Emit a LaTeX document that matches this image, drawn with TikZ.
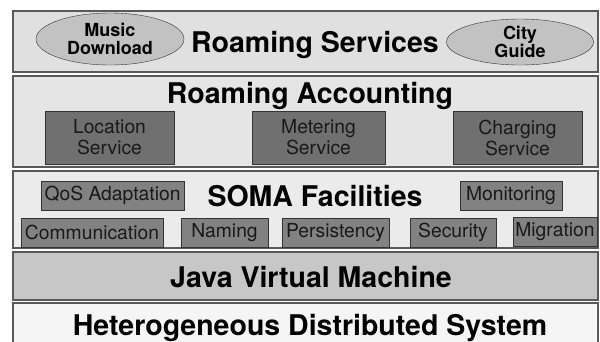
\documentclass[tikz,border=0pt]{standalone}
\usepackage{fontspec}
\setmainfont{TeX Gyre Heros}
\usepackage{tikz}
\usetikzlibrary{positioning}
\usetikzlibrary{shapes.geometric}
\colorlet{servicesc}{black!12}
\colorlet{accountc}{black!10}
\colorlet{facilc}{black!8}
\colorlet{jvmc}{black!22}
\colorlet{hdsc}{black!4}
\colorlet{ovalc}{black!24}
\colorlet{acctc}{black!56}
\colorlet{facc}{black!49}
\tikzset{
  layer/.style={draw=black!65, line width=1.2pt},
  title/.style={anchor=base, inner sep=0pt, font=\fontsize{28.5}{30}\selectfont\bfseries},
  appoval/.style={ellipse, draw=black!80, fill=ovalc, inner sep=0pt, align=center,
    font=\fontsize{18}{18.5}\selectfont\bfseries},
  acctbox/.style={rectangle, draw=black!80, fill=acctc, minimum height=53pt, inner sep=0pt,
    align=center, text=black!90, font=\fontsize{19.3}{21}\selectfont},
  facbox/.style={rectangle, draw=black!80, fill=facc, minimum height=29pt, inner sep=0pt,
    text=black!90, font=\fontsize{19.3}{21}\selectfont}
}
\begin{document}
\begin{tikzpicture}[x=1pt,y=-1pt]
\useasboundingbox (0,0) rectangle (600,341);
\fill[white] (0,0) rectangle (600,341);

% layers
\filldraw[layer, fill=servicesc] (13,11) rectangle (598,72);
\filldraw[layer, fill=accountc] (13,76) rectangle (598,167);
\filldraw[layer, fill=facilc] (13,171) rectangle (598,248);
\filldraw[layer, fill=jvmc] (13,252) rectangle (598,300);
\filldraw[layer, fill=hdsc] (13,303) rectangle (598,350);

% roaming services
\node[title] (services) at (315,52) {Roaming Services};
\node[appoval, minimum width=148pt, minimum height=52pt] (music) at (110,39) {Music\\Download};
\node[appoval, minimum width=147pt, minimum height=46pt] (city) at (520,42) {City\\Guide};

% roaming accounting
\node[title] (accounting) at (310,103) {Roaming Accounting};
\node[acctbox, minimum width=129pt] (location) at (109.5,137.5) {Location\\Service};
\node[acctbox, minimum width=133pt] (metering) at (318.5,137.5) {Metering\\Service};
\node[acctbox, minimum width=129pt] (charging) at (517.5,137.5) {Charging\\Service};

% soma facilities
\node[title] (soma) at (315,206) {SOMA Facilities};
\node[facbox, minimum width=143pt] (qos) at (112.5,195.5) {QoS Adaptation};
\node[facbox, minimum width=102pt] (monitoring) at (511,195.5) {Monitoring};
\node[facbox, minimum width=142pt] (communication) at (92,232.5) {Communication};
\node[facbox, minimum width=87pt] (naming) at (224.5,232.5) {Naming};
\node[facbox, minimum width=107pt] (persistency) at (335.5,232.5) {Persistency};
\node[facbox, minimum width=86pt] (security) at (453,232.5) {Security};
\node[facbox, minimum width=84pt] (migration) at (555,231.5) {Migration};

% base layers
\node[title] (jvm) at (311,287) {Java Virtual Machine};
\node[title] (hds) at (310,335) {Heterogeneous Distributed System};
\end{tikzpicture}
\end{document}
